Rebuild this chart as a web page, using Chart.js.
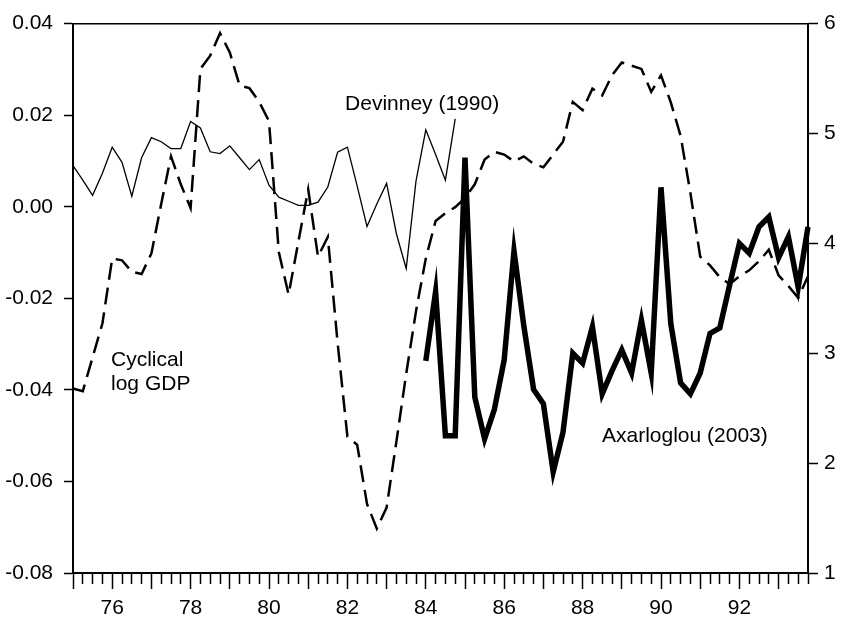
<!DOCTYPE html>
<html>
<head>
<meta charset="utf-8">
<script src="https://cdn.jsdelivr.net/npm/chart.js@4/dist/chart.umd.min.js"></script>
<style>
  html, body { margin: 0; padding: 0; background: #fff; }
  #wrap { width: 843px; height: 619px; position: relative; }
</style>
</head>
<body>
<div id="wrap"><canvas id="c"></canvas></div>
<script>
// Quarterly categories 1975Q1 .. 1993Q4
const years = [75,76,77,78,79,80,81,82,83,84,85,86,87,88,89,90,91,92,93];
const quarters = [];
years.forEach(y => { for (let q = 1; q <= 4; q++) quarters.push(y + 'Q' + q); });

// Cyclical log GDP (left axis), 1975Q1..1993Q4
const gdpCycle = [
  -0.0397, -0.0403, -0.0329, -0.0255, -0.0113, -0.0117, -0.0142, -0.0147,
  -0.0102,  0.0006,  0.0110,  0.0049, -0.0003,  0.0301,  0.0330,  0.0379,
   0.0337,  0.0265,  0.0259,  0.0229,  0.0187, -0.0099, -0.0192, -0.0076,
   0.0038, -0.0109, -0.0066, -0.0297, -0.0502, -0.0520, -0.0649, -0.0703,
  -0.0657, -0.0513, -0.0365, -0.0228, -0.0113, -0.0031, -0.0014, -0.0001,
   0.0019,  0.0049,  0.0103,  0.0120,  0.0114,  0.0099,  0.0110,  0.0094,
   0.0086,  0.0114,  0.0142,  0.0229,  0.0211,  0.0258,  0.0243,  0.0287,
   0.0315,  0.0308,  0.0301,  0.0251,  0.0287,  0.0228,  0.0155,  0.0030,
  -0.0109, -0.0128, -0.0154, -0.0169, -0.0152, -0.0139, -0.0119, -0.0094,
  -0.0150, -0.0173, -0.0199, -0.0152
];

// Devinney (1990) (left axis), 1975Q1..1984Q4
const devinney = [
  0.0090, 0.0058, 0.0025, 0.0073, 0.0130, 0.0097, 0.0023, 0.0107,
  0.0151, 0.0142, 0.0127, 0.0127, 0.0186, 0.0172, 0.0120, 0.0116,
  0.0133, 0.0107, 0.0081, 0.0103, 0.0047, 0.0021, 0.0012, 0.0003,
  0.0003, 0.0010, 0.0043, 0.0119, 0.0130, 0.0045, -0.0043, 0.0006,
  0.0051, -0.0059, -0.0135, 0.0056, 0.0168, 0.0114, 0.0058, 0.0192
];

// Axarloglou (2003) (right axis), 1984Q1..1993Q4
const axarloglou = [
  2.93, 3.56, 2.25, 2.25, 4.78, 2.60, 2.22, 2.49, 2.94, 3.93,
  3.25, 2.67, 2.54, 1.92, 2.28, 3.00, 2.91, 3.24, 2.63, 2.84,
  3.03, 2.82, 3.30, 2.82, 4.51, 3.27, 2.73, 2.63, 2.82, 3.18,
  3.23, 3.62, 4.00, 3.91, 4.15, 4.24, 3.87, 4.06, 3.60, 4.15
];
const devinneyStart = '75Q1';
const axarloglouStart = '84Q1';

// Tick values
const leftTicks = [-0.08, -0.06, -0.04, -0.02, 0.00, 0.02, 0.04];
const rightTicks = [1, 2, 3, 4, 5, 6];

// Text labels anchored in data units (x = quarter index, y = left-axis value)
const labelTexts = ['Devinney (1990)', 'Cyclical', 'log GDP', 'Axarloglou (2003)'];
const labelX = [27.76, 3.88, 3.88, 53.98];
const labelY = [0.0224, -0.0335, -0.0387, -0.0502];

function padSeries(values, startLabel) {
  const out = new Array(quarters.length).fill(null);
  const s = quarters.indexOf(startLabel);
  values.forEach((v, i) => { out[s + i] = v; });
  return out;
}

const FONT = "'Liberation Sans', Arial, Helvetica, sans-serif";
const FSIZE = 21;

const labelPlugin = {
  id: 'textLabels',
  afterDatasetsDraw(chart) {
    const ctx = chart.ctx;
    const xs = chart.scales.x, ys = chart.scales.yL;
    ctx.save();
    ctx.fillStyle = '#000';
    ctx.font = FSIZE + 'px ' + FONT;
    ctx.textAlign = 'left';
    ctx.textBaseline = 'middle';
    labelTexts.forEach((t, i) => {
      ctx.fillText(t, xs.getPixelForValue(labelX[i]), ys.getPixelForValue(labelY[i]));
    });
    ctx.restore();
  }
};

function isMajor(idx) { return quarters[idx] && quarters[idx].endsWith('Q1'); }

new Chart(document.getElementById('c'), {
  type: 'line',
  data: {
    labels: quarters,
    datasets: [
      {
        label: 'Cyclical log GDP',
        data: gdpCycle,
        yAxisID: 'yL',
        borderColor: '#000',
        borderWidth: 2.5,
        borderDash: [17, 8],
        pointRadius: 0,
        tension: 0,
        fill: false
      },
      {
        label: 'Devinney (1990)',
        data: padSeries(devinney, devinneyStart),
        yAxisID: 'yL',
        borderColor: '#000',
        borderWidth: 1.3,
        pointRadius: 0,
        tension: 0,
        fill: false
      },
      {
        label: 'Axarloglou (2003)',
        data: padSeries(axarloglou, axarloglouStart),
        yAxisID: 'yR',
        borderColor: '#000',
        borderWidth: 5.5,
        pointRadius: 0,
        tension: 0,
        fill: false
      }
    ]
  },
  options: {
    responsive: true,
    maintainAspectRatio: false,
    animation: false,
    devicePixelRatio: 1,
    layout: { padding: { top: 17, left: 0, right: 0, bottom: 0 } },
    plugins: { legend: { display: false }, tooltip: { enabled: false } },
    scales: {
      x: {
        type: 'category',
        position: 'bottom',
        offset: false,
        grid: {
          drawOnChartArea: false,
          drawTicks: true,
          tickLength: 16,
          tickColor: '#000',
          tickWidth: 1.5,
          tickBorderDash: (ctx) => isMajor(ctx.index) ? [] : [10, 100],
          offset: false
        },
        border: { display: true, color: '#000', width: 2 },
        ticks: {
          autoSkip: false,
          maxRotation: 0,
          minRotation: 0,
          padding: 7,
          color: '#000',
          font: { size: FSIZE, family: FONT },
          callback: function (val, idx) {
            const l = quarters[idx];
            const y = parseInt(l.slice(0, 2), 10);
            return (l.endsWith('Q1') && y % 2 === 0) ? String(y) : '';
          }
        },
        afterFit: (s) => { s.height = 46; }
      },
      xTop: {
        type: 'category',
        position: 'top',
        display: true,
        grid: { display: false, drawTicks: false },
        border: { display: true, color: '#000', width: 1.5 },
        ticks: { display: false },
        afterFit: (s) => { s.height = 0; }
      },
      yL: {
        type: 'linear',
        position: 'left',
        min: leftTicks[0],
        max: leftTicks[leftTicks.length - 1],
        afterBuildTicks: (s) => { s.ticks = leftTicks.map(v => ({ value: v })); },
        grid: { drawOnChartArea: false, tickLength: 9, tickColor: '#000', tickWidth: 1.5 },
        border: { display: true, color: '#000', width: 2 },
        ticks: {
          padding: 11,
          color: '#000',
          font: { size: FSIZE, family: FONT },
          callback: (v) => (Math.abs(v) < 1e-9 ? 0 : v).toFixed(2)
        },
        afterFit: (s) => { s.width = 73; }
      },
      yR: {
        type: 'linear',
        position: 'right',
        min: rightTicks[0],
        max: rightTicks[rightTicks.length - 1],
        afterBuildTicks: (s) => { s.ticks = rightTicks.map(v => ({ value: v })); },
        grid: { drawOnChartArea: false, tickLength: 10, tickColor: '#000', tickWidth: 1.5 },
        border: { display: true, color: '#000', width: 2 },
        ticks: {
          padding: 6,
          color: '#000',
          font: { size: FSIZE, family: FONT },
          callback: (v) => String(v)
        },
        afterFit: (s) => { s.width = 35; }
      }
    }
  },
  plugins: [labelPlugin]
});
</script>
</body>
</html>
